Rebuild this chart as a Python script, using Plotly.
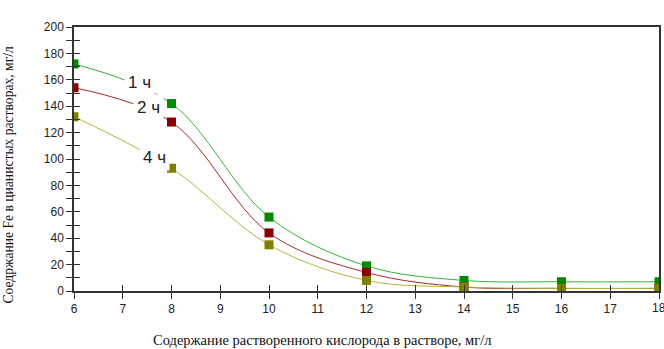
import plotly.graph_objects as go

oxygen = [6, 8, 10, 12, 14, 16, 18]
fe_1h = [172, 142, 56, 19, 8, 7, 7]
fe_2h = [154, 128, 44, 14, 3, 2, 2]
fe_4h = [132, 93, 35, 8, 3, 2, 2]

series = [
    ("1 ч", fe_1h, "#33b533", "#008a00"),
    ("2 ч", fe_2h, "#a52a2a", "#8b0000"),
    ("4 ч", fe_4h, "#b5b53a", "#808000"),
]
labels = [("1 ч", 7.35, 158), ("2 ч", 7.52, 139), ("4 ч", 7.66, 101)]

fig = go.Figure()
for name, vals, lc, mc in series:
    fig.add_trace(go.Scatter(
        x=oxygen, y=vals, mode="lines", name=name,
        line=dict(color=lc, width=1, shape="spline", smoothing=1.0),
        showlegend=False, hoverinfo="skip"))
for name, vals, lc, mc in series:
    fig.add_trace(go.Scatter(
        x=oxygen, y=vals, mode="markers", name=name,
        marker=dict(color=mc, size=9, symbol="square"),
        showlegend=False))

# invisible trace for the overlay axes (crossing ticks)
fig.add_trace(go.Scatter(x=[6], y=[0], xaxis="x2", yaxis="y2", mode="markers",
                         marker=dict(opacity=0), showlegend=False, hoverinfo="skip"))

for text, lx, ly in labels:
    fig.add_annotation(x=lx, y=ly, text=text, showarrow=False,
                       font=dict(family="Liberation Sans, Arial", size=17, color="#222"),
                       bgcolor="white", borderpad=3)

tickfont = dict(family="Liberation Sans, Arial", size=12, color="#222")
# last x tick label sits at the page edge (clipped in the reference)
fig.add_annotation(x=18, y=0, yanchor="top", yshift=-8, text="18", showarrow=False,
                   font=tickfont)

titlefont_x = dict(family="Liberation Serif, Times New Roman", size=14.5, color="#111")
titlefont_y = dict(family="Liberation Serif, Times New Roman", size=13.6, color="#111")
fig.add_annotation(xref="paper", yref="paper", x=0.424, y=-0.185, yanchor="middle",
                   text="Содержание растворенного кислорода в растворе, мг/л",
                   showarrow=False, font=titlefont_x)
fig.add_annotation(xref="paper", yref="paper", x=-0.112, y=0.443, xanchor="center",
                   yanchor="middle", textangle=-90,
                   text="Соедржание Fe в цианистых растворах, мг/л",
                   showarrow=False, font=titlefont_y)

axcol = "#333"
fig.update_layout(
    width=664, height=349,
    margin=dict(l=74, r=5, t=27, b=58),
    paper_bgcolor="white", plot_bgcolor="white",
    xaxis=dict(range=[6, 18], dtick=1, tick0=6, showgrid=False, zeroline=False,
               showline=True, linecolor=axcol, linewidth=1.5, mirror=True,
               ticks="outside", ticklen=6, tickcolor=axcol, tickwidth=1,
               tickfont=tickfont, automargin=False),
    yaxis=dict(range=[0, 200], dtick=20, showgrid=False, zeroline=False,
               showline=True, linecolor=axcol, linewidth=1.5, mirror=True,
               ticks="outside", ticklen=6, tickcolor=axcol, tickwidth=1,
               minor=dict(dtick=10, ticks="outside", ticklen=6, tickcolor=axcol),
               tickfont=tickfont, automargin=False),
    xaxis2=dict(overlaying="x", matches="x", range=[6, 18], dtick=1, tick0=6,
                showgrid=False, zeroline=False, showline=False, showticklabels=False,
                ticks="inside", ticklen=6, tickcolor=axcol, side="bottom", automargin=False),
    yaxis2=dict(overlaying="y", matches="y", range=[0, 200], dtick=20,
                showgrid=False, zeroline=False, showline=False, showticklabels=False,
                ticks="inside", ticklen=6, tickcolor=axcol, side="left", automargin=False,
                minor=dict(dtick=10, ticks="inside", ticklen=6, tickcolor=axcol)),
)

fig.write_html("out.html", config={"displayModeBar": False},
               post_script="document.body.style.margin='0';document.body.style.overflow='hidden';")
